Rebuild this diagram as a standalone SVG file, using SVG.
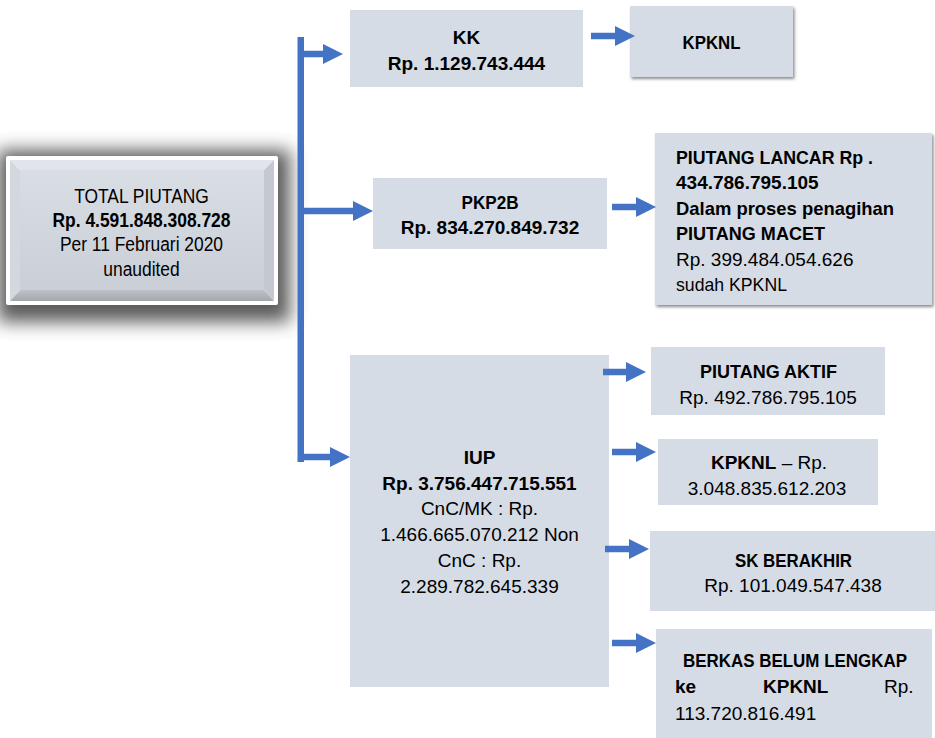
<svg xmlns="http://www.w3.org/2000/svg" width="935" height="738" viewBox="0 0 935 738">
<style>
.box{fill:#D6DCE5}
.t{font-family:"Liberation Sans",Arial,sans-serif;font-size:19px;fill:#000}
.c{text-anchor:middle}
.b{font-weight:bold}
.tt{font-family:"Liberation Sans",Arial,sans-serif;font-size:20px;fill:#000;text-anchor:middle}
.conn line{stroke:#4472C4;stroke-width:6.5;marker-end:url(#ah)}
</style>
<defs>
<marker id="ah" markerUnits="userSpaceOnUse" markerWidth="20" markerHeight="20" viewBox="0 0 20 20" refX="0" refY="10" orient="auto">
<path d="M0,0 L20,10 L0,20 Z" fill="#4472C4"/>
</marker>
<filter id="sh" x="-10%" y="-10%" width="120%" height="130%">
<feDropShadow dx="1.5" dy="2" stdDeviation="1.5" flood-color="#000" flood-opacity="0.45"/>
</filter>
<filter id="glow" x="-20%" y="-30%" width="140%" height="160%">
<feGaussianBlur stdDeviation="9"/>
</filter>
<linearGradient id="face" x1="0" y1="0" x2="0" y2="1">
<stop offset="0" stop-color="#D9DDE4"/>
<stop offset="1" stop-color="#CACFD7"/>
</linearGradient>
<linearGradient id="bot" x1="0" y1="0" x2="0" y2="1">
<stop offset="0" stop-color="#BDC1C8"/>
<stop offset="1" stop-color="#A3A7AE"/>
</linearGradient>
</defs>
<rect width="935" height="738" fill="#fff"/>

<g id="total">
<rect x="-2" y="150" width="292" height="172" fill="#4a4a4a" opacity="0.9" filter="url(#glow)"/>
<rect x="6" y="156" width="272" height="149" rx="2" fill="#fff"/>
<polygon points="10,160 274,160 264,170 20,170" fill="#E1E5EB"/>
<polygon points="10,301 274,301 264,290 20,290" fill="url(#bot)"/>
<polygon points="10,160 20,170 20,290 10,301" fill="#D3D7DE"/>
<polygon points="274,160 264,170 264,290 274,301" fill="#C4C9D1"/>
<rect x="20" y="170" width="244" height="120" fill="url(#face)"/>
<g transform="translate(141.5,0) scale(0.87,1)">
<text class="tt" x="0" y="203.5">TOTAL PIUTANG</text>
<text class="tt b" x="0" y="227.5">Rp. 4.591.848.308.728</text>
<text class="tt" x="0" y="251.5">Per 11 Februari 2020</text>
<text class="tt" x="0" y="276.5">unaudited</text>
</g>
</g>

<g id="kk">
<rect class="box" x="350" y="10" width="233" height="77"/>
<text class="t c b" x="466.5" y="43.5">KK</text>
<text class="t c b" x="466.5" y="69.5">Rp. 1.129.743.444</text>
</g>

<g id="kpknl1">
<rect class="box" x="630" y="6" width="163" height="71" filter="url(#sh)"/>
<text class="t c b" x="711.5" y="49" textLength="58" lengthAdjust="spacingAndGlyphs">KPKNL</text>
</g>

<g id="pkp2b">
<rect class="box" x="373" y="178" width="234" height="71"/>
<text class="t c b" x="490" y="208.5" textLength="57" lengthAdjust="spacingAndGlyphs">PKP2B</text>
<text class="t c b" x="490" y="233.5">Rp. 834.270.849.732</text>
</g>

<g id="piutang-lancar">
<rect class="box" x="655" y="133" width="277" height="172" filter="url(#sh)"/>
<text class="t b" x="676" y="163.5" textLength="197" lengthAdjust="spacingAndGlyphs">PIUTANG LANCAR Rp .</text>
<text class="t b" x="676" y="189">434.786.795.105</text>
<text class="t b" x="676" y="214.5" textLength="218" lengthAdjust="spacingAndGlyphs">Dalam proses penagihan</text>
<text class="t b" x="676" y="240" textLength="149" lengthAdjust="spacingAndGlyphs">PIUTANG MACET</text>
<text class="t" x="676" y="265.5">Rp. 399.484.054.626</text>
<text class="t" x="676" y="291" textLength="111" lengthAdjust="spacingAndGlyphs">sudah KPKNL</text>
</g>

<g id="iup">
<rect class="box" x="350" y="355" width="259" height="332"/>
<text class="t c b" x="479.5" y="463.5">IUP</text>
<text class="t c b" x="479.5" y="489.5">Rp. 3.756.447.715.551</text>
<text class="t c" x="479.5" y="515">CnC/MK : Rp.</text>
<text class="t c" x="479.5" y="541">1.466.665.070.212 Non</text>
<text class="t c" x="479.5" y="567">CnC : Rp.</text>
<text class="t c" x="479.5" y="593">2.289.782.645.339</text>
</g>

<g id="piutang-aktif">
<rect class="box" x="651" y="347" width="234" height="68"/>
<text class="t c b" x="768.5" y="377.5" textLength="137" lengthAdjust="spacingAndGlyphs">PIUTANG AKTIF</text>
<text class="t c" x="768" y="403.5">Rp. 492.786.795.105</text>
</g>

<g id="kpknl2">
<rect class="box" x="658" y="439" width="220" height="66"/>
<text class="t c" x="769" y="468.5"><tspan class="b">KPKNL</tspan> – Rp.</text>
<text class="t c" x="767" y="495">3.048.835.612.203</text>
</g>

<g id="sk-berakhir">
<rect class="box" x="650" y="531" width="285" height="80"/>
<text class="t c b" x="793.5" y="567" textLength="117" lengthAdjust="spacingAndGlyphs">SK BERAKHIR</text>
<text class="t c" x="793" y="592">Rp. 101.049.547.438</text>
</g>

<g id="berkas">
<rect class="box" x="656" y="629" width="276" height="109"/>
<text class="t c b" x="795" y="667" textLength="224" lengthAdjust="spacingAndGlyphs">BERKAS BELUM LENGKAP</text>
<text class="t" y="693"><tspan class="b" x="675">ke</tspan><tspan class="b" x="763">KPKNL</tspan><tspan x="884">Rp.</tspan></text>
<text class="t" x="675" y="720">113.720.816.491</text>
</g>

<g id="connectors" class="conn">
<rect x="297.5" y="37" width="6.5" height="425" fill="#4472C4"/>
<line x1="303" y1="54" x2="323" y2="54"/>
<line x1="303" y1="211" x2="353" y2="211"/>
<line x1="303" y1="457" x2="330" y2="457"/>
<line x1="591" y1="36" x2="615" y2="36"/>
<line x1="612" y1="207" x2="636" y2="207"/>
<line x1="603" y1="372" x2="626" y2="372"/>
<line x1="612" y1="452" x2="636" y2="452"/>
<line x1="605" y1="549" x2="629" y2="549"/>
<line x1="612" y1="643" x2="636" y2="643"/>
</g>
</svg>
